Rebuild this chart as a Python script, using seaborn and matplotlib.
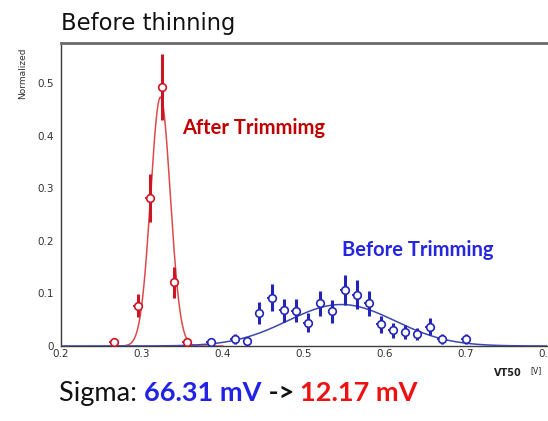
import numpy as np
import pandas as pd
import matplotlib
matplotlib.use("Agg")
import matplotlib.pyplot as plt
from matplotlib.ticker import MultipleLocator, FuncFormatter
import seaborn as sns

# Histogram points after trimming (VT50 bin centre, normalized content, error)
after_x = [0.265, 0.295, 0.310, 0.325, 0.340, 0.355]
after_y = [0.008, 0.077, 0.282, 0.493, 0.121, 0.007]
after_err = [0.008, 0.022, 0.045, 0.063, 0.030, 0.007]

# Histogram points before trimming
before_x = [0.385, 0.415, 0.430, 0.445, 0.460, 0.475, 0.490, 0.505, 0.520, 0.535,
            0.550, 0.565, 0.580, 0.595, 0.610, 0.625, 0.640, 0.655, 0.670, 0.700]
before_y = [0.008, 0.013, 0.009, 0.062, 0.092, 0.068, 0.067, 0.044, 0.081, 0.066,
            0.107, 0.098, 0.081, 0.041, 0.030, 0.027, 0.023, 0.037, 0.013, 0.013]
before_err = [0.008, 0.010, 0.008, 0.021, 0.026, 0.022, 0.022, 0.018, 0.024, 0.022,
              0.028, 0.027, 0.024, 0.017, 0.014, 0.013, 0.012, 0.016, 0.009, 0.009]

# Gaussian fit parameters: amplitude, mean [V], sigma [V]
after_fit = (0.474, 0.3228, 0.01217)
before_fit = (0.079, 0.546, 0.06631)

x_ticks = [0.2, 0.3, 0.4, 0.5, 0.6, 0.7, 0.8]
y_ticks = [0.0, 0.1, 0.2, 0.3, 0.4, 0.5]

RED_PT = "#cc1626"
RED_FIT = "#dd4a4a"
BLUE_PT = "#2424b8"
BLUE_FIT = "#3a48b0"
AXIS = "#3c3c3c"

sns.set_theme(style="white")
plt.rcParams["font.family"] = ["DejaVu Sans"]

fig = plt.figure(figsize=(5.48, 4.21), dpi=100)
ax = fig.add_axes([61 / 548, 1 - 346 / 421, 486 / 548, 303 / 421])


def gauss(x, a, mu, s):
    return a * np.exp(-0.5 * ((x - mu) / s) ** 2)


xr = np.linspace(0.26, 0.40, 400)
fit_after = pd.DataFrame({"x": xr, "y": gauss(xr, *after_fit)})
xb = np.linspace(0.2, 0.8, 600)
fit_before = pd.DataFrame({"x": xb, "y": gauss(xb, *before_fit)})

sns.lineplot(data=fit_after, x="x", y="y", ax=ax, color=RED_FIT, lw=1.1, zorder=3)
sns.lineplot(data=fit_before, x="x", y="y", ax=ax, color=BLUE_FIT, lw=1.1, zorder=3)


def draw_points(xs, ys, errs, color):
    ax.errorbar(xs, ys, yerr=errs, fmt="none", ecolor=color, elinewidth=2.2,
                capsize=0, zorder=4)
    ax.errorbar(xs, ys, xerr=0.0058, fmt="none", ecolor=color, elinewidth=1.3,
                capsize=0, zorder=4)
    sns.scatterplot(x=xs, y=ys, ax=ax, s=30, marker="o", facecolor="white",
                    edgecolor=color, linewidth=1.2, zorder=5)


draw_points(after_x, after_y, after_err, RED_PT)
draw_points(before_x, before_y, before_err, BLUE_PT)

ax.set_xlim(0.2, 0.8)
ax.set_ylim(0.0, 0.577)
ax.set_xticks(x_ticks)
ax.set_yticks(y_ticks)
ax.xaxis.set_minor_locator(MultipleLocator(0.02))
ax.yaxis.set_minor_locator(MultipleLocator(0.01))
ax.xaxis.set_major_formatter(FuncFormatter(lambda v, p: f"{v:.1f}"))
ax.yaxis.set_major_formatter(FuncFormatter(lambda v, p: "0" if abs(v) < 1e-9 else f"{v:.1f}"))
ax.tick_params(axis="both", which="both", direction="in", colors=AXIS,
               labelsize=7.5, labelcolor="#333333", width=0.8)
ax.tick_params(axis="y", which="major", length=8, pad=5)
ax.tick_params(axis="y", which="minor", length=4)
ax.tick_params(axis="x", which="major", length=7, pad=2)
ax.tick_params(axis="x", which="minor", length=4)
ax.set_xlabel("")
ax.set_ylabel("")

for side in ("left", "bottom"):
    ax.spines[side].set_color(AXIS)
    ax.spines[side].set_linewidth(1.0)
ax.spines["top"].set_color("#6a6a6a")
ax.spines["top"].set_linewidth(2.0)
ax.spines["right"].set_visible(False)

# Titles and annotations
fig.text(61 / 548, 1 - 30 / 421, "Before thinning", fontsize=16.3, color="#111111",
         ha="left", va="baseline")
fig.text(23 / 548, 1 - 73 / 421, "Normalized", fontsize=6.5, rotation=90,
         ha="center", va="center", color="#333333")
fig.text(508 / 548, 1 - 376 / 421, "VT50", fontsize=7, fontweight="bold",
         ha="center", va="baseline", color="#222222")
fig.text(536 / 548, 1 - 373 / 421, "[V]", fontsize=5.5,
         ha="center", va="baseline", color="#222222")

ax.text(0.35, 0.415, "After Trimmimg", fontsize=14.5, fontweight="bold", family="Lato",
        color="#c00000", ha="left", va="center")
ax.text(0.547, 0.182, "Before Trimming", fontsize=14.5, fontweight="bold", family="Lato",
        color="#2626e0", ha="left", va="center")

# Sigma summary line in coloured segments
y_sig = 1 - 401 / 421
parts = [("Sigma: ", "#111111", "normal"), ("66.31 mV", "#2222e6", "bold"),
         (" -> ", "#111111", "bold"), ("12.17 mV", "#ee1111", "bold")]
renderer = fig.canvas.get_renderer()
xpos = 59 / 548
for txt, col, wt in parts:
    t = fig.text(xpos, y_sig, txt, fontsize=19.5, color=col, fontweight=wt,
                 family="Lato", ha="left", va="baseline")
    bb = t.get_window_extent(renderer=renderer)
    xpos += bb.width / fig.bbox.width

fig.savefig("out.png", dpi=100)
